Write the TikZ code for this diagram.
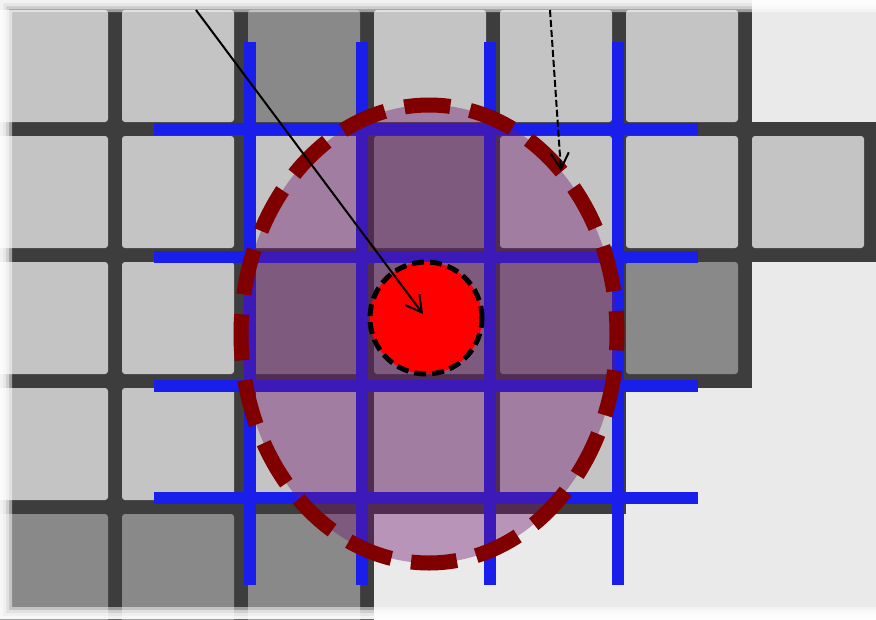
\documentclass[tikz,border=0pt]{standalone}
\usepackage{xcolor}
\usetikzlibrary{positioning,arrows.meta,shapes.geometric}
\definecolor{gutter}{HTML}{3D3D3D}
\definecolor{emptybg}{HTML}{EAEAEA}
\definecolor{lighttile}{HTML}{C4C4C4}
\definecolor{midtile}{HTML}{898989}
\definecolor{gridblue}{RGB}{26,30,235}
\definecolor{winfill}{RGB}{110,20,110}
\definecolor{winedge}{RGB}{128,0,0}

\begin{document}
\begin{tikzpicture}[x=1pt, y=-1pt,
    tile/.style={rounded corners=3pt},
    gridline/.style={draw=gridblue, line width=12pt},
    window/.style={ellipse, minimum width=376pt, minimum height=458pt,
      inner sep=0pt, outer sep=0pt, fill=winfill, fill opacity=0.4,
      draw=winedge, line width=15pt, dash pattern=on 46pt off 20pt, dash phase=23pt},
    pixel/.style={circle, minimum size=112pt, inner sep=0pt, outer sep=0pt,
      fill=red, draw=black, line width=5pt, dash pattern=on 12pt off 6pt},
    pointer/.style={-{Straight Barb[length=16pt, width=18pt]}, line width=2pt}]
  \useasboundingbox (0,0) rectangle (876,619);
  \fill[emptybg] (0,0) rectangle (876,619);
  % image pixels: row/column/shade
  \foreach \r/\c/\s in {0/0/lighttile, 0/1/lighttile, 0/2/midtile, 0/3/lighttile,
      0/4/lighttile, 0/5/lighttile,
      1/0/lighttile, 1/1/lighttile, 1/2/lighttile, 1/3/midtile, 1/4/lighttile,
      1/5/lighttile, 1/6/lighttile,
      2/0/lighttile, 2/1/lighttile, 2/2/midtile, 2/3/midtile, 2/4/midtile, 2/5/midtile,
      3/0/lighttile, 3/1/lighttile, 3/2/lighttile, 3/3/lighttile, 3/4/lighttile,
      4/0/midtile, 4/1/midtile, 4/2/midtile}
    \fill[gutter] (126*\c-18, 126*\r-4) rectangle ++(140,140);
  \foreach \r/\c/\s in {0/0/lighttile, 0/1/lighttile, 0/2/midtile, 0/3/lighttile,
      0/4/lighttile, 0/5/lighttile,
      1/0/lighttile, 1/1/lighttile, 1/2/lighttile, 1/3/midtile, 1/4/lighttile,
      1/5/lighttile, 1/6/lighttile,
      2/0/lighttile, 2/1/lighttile, 2/2/midtile, 2/3/midtile, 2/4/midtile, 2/5/midtile,
      3/0/lighttile, 3/1/lighttile, 3/2/lighttile, 3/3/lighttile, 3/4/lighttile,
      4/0/midtile, 4/1/midtile, 4/2/midtile}
    \fill[tile, \s] (126*\c-4, 126*\r+10) rectangle ++(112,112);
  % soft white edge
  \foreach \d in {3,6,9,12}
    \fill[white, opacity=0.5, even odd rule]
      (0,0) rectangle (890,619) (\d,\d) rectangle (890,619-\d);
  % sampling grid
  \foreach \x in {250,362,490,618}
    \draw[gridline] (\x,42) -- (\x,585);
  \foreach \y in {129,257,386,498}
    \draw[gridline] (154,\y) -- (698,\y);
  % kernel window and centre pixel
  \node[window] (win) at (429,334) {};
  \node[pixel] (pix) at (426,318) {};
  \coordinate (tagA) at (196,10);
  \coordinate (tagB) at (550,10);
  \draw[pointer, shorten >=5pt] (tagA) -- (pix.center);
  \draw[pointer, dash pattern=on 7pt off 3pt] (tagB) -- (win.51);
\end{tikzpicture}
\end{document}
